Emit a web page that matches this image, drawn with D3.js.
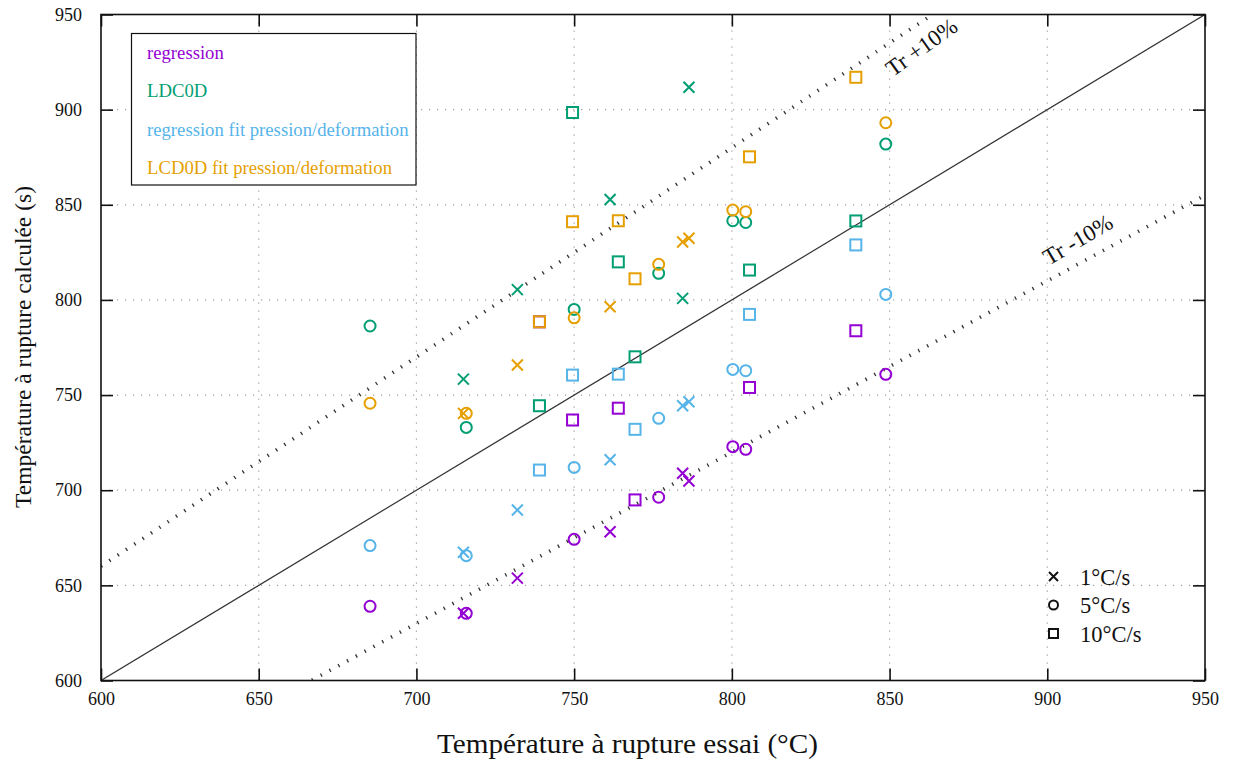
<!DOCTYPE html>
<html>
<head>
<meta charset="utf-8">
<script src="https://cdn.jsdelivr.net/npm/d3@7"></script>
<style>
  html, body { margin: 0; padding: 0; background: #fff; }
  svg text { font-family: "Liberation Serif", "Times New Roman", serif; }
</style>
</head>
<body>
<svg id="chart" width="1234" height="765"></svg>
<script>
// ---------- data ----------
const seriesNames = ["regression", "LDC0D", "regression fit pression/deformation", "LCD0D fit pression/deformation"];
const seriesColors = ["#9400D3", "#009E73", "#56B4E9", "#E69F00"];
const rateLabels = ["1°C/s", "5°C/s", "10°C/s"];
const rateShapes = ["cross", "circle", "square"];

// test temperatures (x) per heating rate
const xCross  = [714.9, 732.0, 761.4, 784.4, 786.4];
const xCircle = [685.3, 715.8, 750.0, 776.8, 800.3, 804.4, 848.8];
const xSquare = [739.0, 749.5, 764.0, 769.3, 805.6, 839.3];

// computed temperatures (y) per series and rate
const regressionCross  = [635.3, 653.8, 678.2, 708.9, 704.8];
const regressionCircle = [639.0, 635.3, 674.2, 696.3, 722.9, 721.5, 760.9];
const regressionSquare = [788.5, 736.9, 743.1, 694.9, 754.0, 783.8];

const ldcCross  = [758.4, 805.4, 852.8, 800.8, 911.8];
const ldcCircle = [786.3, 733.0, 795.0, 814.0, 841.6, 840.7, 881.9];
const ldcSquare = [744.4, 898.5, 820.0, 770.1, 815.7, 841.5];

const fitCross  = [667.4, 689.6, 716.0, 744.4, 746.5];
const fitCircle = [670.9, 665.6, 712.0, 737.8, 763.5, 762.8, 802.9];
const fitSquare = [710.6, 760.5, 761.0, 732.0, 792.4, 828.9];

const lcdCross  = [740.4, 765.8, 796.4, 830.4, 832.4];
const lcdCircle = [745.7, 740.4, 790.6, 818.7, 847.2, 846.4, 893.1];
const lcdSquare = [788.5, 841.1, 841.6, 811.1, 875.2, 917.0];

const xTicks = [600, 650, 700, 750, 800, 850, 900, 950];
const yTicks = [600, 650, 700, 750, 800, 850, 900, 950];
const bandFactors = [1.1, 0.9];
const bandLabels = ["Tr +10%", "Tr -10%"];
const bandLabelAt = [[851, 917], [900.5, 818]];

const xTitle = "Température à rupture essai (°C)";
const yTitle = "Température à rupture calculée (s)";

// ---------- build ----------
const seriesData = [
  [regressionCross, regressionCircle, regressionSquare],
  [ldcCross, ldcCircle, ldcSquare],
  [fitCross, fitCircle, fitSquare],
  [lcdCross, lcdCircle, lcdSquare]
];
const xByRate = [xCross, xCircle, xSquare];

const points = [];
seriesData.forEach((rates, si) => {
  rates.forEach((ys, ri) => {
    ys.forEach((y, i) => points.push({ s: si, r: ri, x: xByRate[ri][i], y: y }));
  });
});

const svg = d3.select("#chart");
const L = 101, R = 1205, T = 14.5, B = 680.5;
const x = d3.scaleLinear().domain([600, 950]).range([L, R]);
const y = d3.scaleLinear().domain([600, 950]).range([B, T]);

svg.append("defs").append("clipPath").attr("id", "clip")
  .append("rect").attr("x", L).attr("y", T).attr("width", R - L).attr("height", B - T);

// grid
const grid = svg.append("g");
grid.selectAll(".gx").data(xTicks.slice(1, -1)).join("line")
  .attr("x1", d => x(d)).attr("x2", d => x(d)).attr("y1", T).attr("y2", B)
  .attr("stroke", "#a0a0a0").attr("stroke-width", 1.2).attr("stroke-dasharray", "1.2,6.8");
grid.selectAll(".gy").data(yTicks.slice(1, -1)).join("line")
  .attr("y1", d => y(d)).attr("y2", d => y(d)).attr("x1", L).attr("x2", R)
  .attr("stroke", "#a0a0a0").attr("stroke-width", 1.2).attr("stroke-dasharray", "1.2,6.8");

// diagonal and +/-10% lines
const lines = svg.append("g").attr("clip-path", "url(#clip)");
lines.append("line")
  .attr("x1", x(600)).attr("y1", y(600)).attr("x2", x(950)).attr("y2", y(950))
  .attr("stroke", "#333").attr("stroke-width", 1.2);
bandFactors.forEach(f => {
  lines.append("line")
    .attr("x1", x(600)).attr("y1", y(600 * f)).attr("x2", x(950)).attr("y2", y(950 * f))
    .attr("stroke", "#333").attr("stroke-width", 3.6).attr("stroke-dasharray", "1.3,8.7");
});

// band labels
bandFactors.forEach((f, i) => {
  const ang = -Math.atan((y(600) - y(600 + 100 * f)) / (x(700) - x(600))) * 180 / Math.PI - 2;
  const [lx, ly] = bandLabelAt[i];
  svg.append("text")
    .attr("transform", `translate(${x(lx)},${y(ly)}) rotate(${ang})`)
    .attr("font-size", 23).attr("fill", "#111")
    .text(bandLabels[i]);
});

// axes (ticks inward on all sides)
const tickLen = 12;
svg.append("g").attr("transform", `translate(0,${B})`)
  .call(d3.axisBottom(x).tickValues(xTicks).tickSize(-tickLen).tickPadding(12).tickFormat(d3.format("d")))
  .call(g => g.select(".domain").remove())
  .call(g => g.selectAll("text").attr("font-size", 18).attr("font-family", "Liberation Serif").attr("fill", "#111"));
svg.append("g").attr("transform", `translate(0,${T})`)
  .call(d3.axisTop(x).tickValues(xTicks).tickSize(-tickLen).tickFormat(""))
  .call(g => g.select(".domain").remove());
svg.append("g").attr("transform", `translate(${L},0)`)
  .call(d3.axisLeft(y).tickValues(yTicks).tickSize(-tickLen).tickPadding(19).tickFormat(d3.format("d")))
  .call(g => g.select(".domain").remove())
  .call(g => g.selectAll("text").attr("font-size", 18).attr("font-family", "Liberation Serif").attr("fill", "#111"));
svg.append("g").attr("transform", `translate(${R},0)`)
  .call(d3.axisRight(y).tickValues(yTicks).tickSize(-tickLen).tickFormat(""))
  .call(g => g.select(".domain").remove());
svg.selectAll(".tick line").attr("stroke", "#111").attr("stroke-width", 1.6);

// frame
svg.append("rect").attr("x", L).attr("y", T).attr("width", R - L).attr("height", B - T)
  .attr("fill", "none").attr("stroke", "#111").attr("stroke-width", 1.6);

// markers
function drawMarker(g, shape, cx, cy, color, s) {
  if (shape === "circle") {
    g.append("circle").attr("cx", cx).attr("cy", cy).attr("r", s)
      .attr("fill", "none").attr("stroke", color).attr("stroke-width", 2);
  } else if (shape === "square") {
    g.append("rect").attr("x", cx - s).attr("y", cy - s).attr("width", 2 * s).attr("height", 2 * s)
      .attr("fill", "none").attr("stroke", color).attr("stroke-width", 2);
  } else {
    g.append("path").attr("d", `M${cx - s},${cy - s}L${cx + s},${cy + s}M${cx - s},${cy + s}L${cx + s},${cy - s}`)
      .attr("fill", "none").attr("stroke", color).attr("stroke-width", 2);
  }
}
const mg = svg.append("g");
points.forEach(p => drawMarker(mg, rateShapes[p.r], x(p.x), y(p.y), seriesColors[p.s], 5.5));

// series legend box
const lg = svg.append("g");
lg.append("rect").attr("x", 131.5).attr("y", 33.5).attr("width", 284.5).attr("height", 151.5)
  .attr("fill", "#fff").attr("stroke", "#111").attr("stroke-width", 1.2);
seriesNames.forEach((n, i) => {
  lg.append("text").attr("x", 147).attr("y", 59 + i * 38.3)
    .attr("font-size", 18.7).attr("fill", seriesColors[i]).text(n);
});

// rate legend
const rg = svg.append("g");
rateLabels.forEach((n, i) => {
  const cy = 576.5 + i * 28.5;
  drawMarker(rg, rateShapes[i], 1053.5, cy, "#111", 4.5);
  rg.append("text").attr("x", 1080).attr("y", cy + 8).attr("font-size", 22.5).attr("fill", "#111").text(n);
});

// axis titles
svg.append("text").attr("x", 627.5).attr("y", 753).attr("text-anchor", "middle")
  .attr("font-size", 27).attr("textLength", 381).attr("lengthAdjust", "spacingAndGlyphs")
  .attr("fill", "#111").text(xTitle);
svg.append("text").attr("transform", "translate(31,347) rotate(-90)").attr("text-anchor", "middle")
  .attr("font-size", 23.5).attr("fill", "#111").text(yTitle);
</script>
</body>
</html>
